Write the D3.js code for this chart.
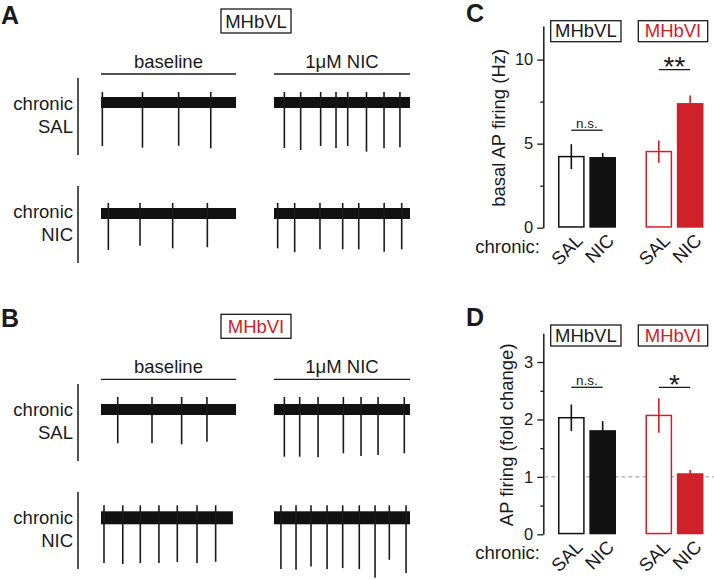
<!DOCTYPE html>
<html><head><meta charset="utf-8">
<script src="https://cdn.jsdelivr.net/npm/d3@7"></script>
<style>
body{margin:0;background:#fff}
svg{display:block}
text{font-family:"Liberation Sans",Arial,Helvetica,sans-serif;fill:#1a1a1a}
</style>
</head><body>
<svg id="c" width="714" height="580"></svg>
<script>
// ---------------- DATA ----------------
const groups = ["MHbVL", "MHbVI"];
const chronic = ["SAL", "NIC"];
// panel C: basal AP firing (Hz), order VL-SAL, VL-NIC, VI-SAL, VI-NIC
const firingMean = [4.23, 4.16, 4.53, 7.37];
const firingSem  = [0.74, 0.28, 0.66, 0.50];
const firingTicks = [0, 5, 10];
const firingMinor = [2.5, 7.5];
const firingSig = [5.8, 9.4];
const firingSigLabel = ["n.s.", "**"];
// panel D: AP firing fold change
const foldMean = [2.03, 1.80, 2.07, 1.05];
const foldSem  = [0.23, 0.17, 0.30, 0.07];
const foldTicks = [0, 1, 2, 3];
const foldMinor = [0.5, 1.5, 2.5];
const foldSig = [2.56, 2.56];
const foldSigLabel = ["n.s.", "*"];

// example traces: spike times (s) and spike amplitudes (mV below baseline)
const conditions = ["baseline", "1μM NIC"];
const A_SAL_base_t = [0.10, 3.05, 5.71, 8.07];
const A_SAL_base_a = [43.5, 45.2, 43.2, 45.8];
const A_SAL_nic_t  = [0.76, 1.96, 3.43, 4.56, 5.42, 6.80, 8.09, 9.26];
const A_SAL_nic_a  = [45.5, 47.5, 43.5, 45.5, 43.5, 49.2, 45.8, 44.8];
const A_NIC_base_t = [0.54, 2.87, 5.27, 7.82];
const A_NIC_base_a = [36.5, 32.2, 34.8, 33.8];
const A_NIC_nic_t  = [0.27, 1.52, 3.38, 5.05, 6.23, 8.10, 9.39];
const A_NIC_nic_a  = [34.8, 38.8, 35.8, 35.8, 35.8, 38.2, 35.8];
const B_SAL_base_t = [1.23, 3.75, 5.93, 7.79];
const B_SAL_base_a = [33.8, 33.8, 34.8, 32.2];
const B_SAL_nic_t  = [0.76, 1.89, 3.24, 5.10, 6.40, 7.65, 9.58];
const B_SAL_nic_a  = [47.2, 47.2, 47.8, 43.8, 46.5, 45.5, 43.8];
const B_NIC_base_t = [0.22, 1.60, 2.89, 4.26, 5.61, 7.06, 8.43];
const B_NIC_base_a = [45.3, 46.3, 45.3, 45.3, 44.3, 45.3, 44.0];
const B_NIC_nic_t  = [0.51, 1.62, 2.72, 3.90, 5.05, 6.27, 7.43, 8.48, 9.71];
const B_NIC_nic_a  = [51.3, 52.0, 48.7, 51.3, 50.3, 51.3, 60.0, 42.0, 55.3];
const durations = { base: 9.93, nic: 10.0 };

// ---------------- DRAW ----------------
const RED = "#cf2129";
const svg = d3.select("#c");

function txt(x, y, s, size, opts = {}) {
  const t = svg.append("text").attr("x", x).attr("y", y).text(s)
    .attr("font-size", size).attr("text-anchor", opts.anchor || "start");
  if (opts.bold) t.attr("font-weight", "bold");
  if (opts.fill) t.style("fill", opts.fill);
  return t;
}
function box(x, y, w, h, label, color, base) {
  svg.append("rect").attr("x", x).attr("y", y).attr("width", w).attr("height", h)
    .attr("fill", "#fff").attr("stroke", "#1a1a1a").attr("stroke-width", 1.3);
  txt(x + w / 2, base, label, 18.5, { anchor: "middle", fill: color });
}

// panel letters
txt(1, 24, "A", 25, { bold: true });
txt(1, 327, "B", 25, { bold: true });
txt(466, 22, "C", 25, { bold: true });
txt(466, 326, "D", 25, { bold: true });

// ----- trace panels -----
const tScale = d3.scaleLinear().domain([0, 10]).range([0, 136]);
const vScale = d3.scaleLinear().domain([-50, 50]).range([50, -50]);

function drawTrace(x0, yc, dur, noise, over, times, amps) {
  const g = svg.append("g").attr("transform", `translate(${x0},${yc})`);
  g.append("rect").attr("x", 0).attr("y", vScale(noise / 2))
    .attr("width", tScale(dur)).attr("height", vScale(-noise / 2) - vScale(noise / 2))
    .attr("fill", "#111");
  g.selectAll("line.sp").data(times).join("line")
    .attr("x1", d => tScale(d)).attr("x2", d => tScale(d))
    .attr("y1", vScale(noise / 2 + over)).attr("y2", (d, i) => vScale(-amps[i]))
    .attr("stroke", "#1a1a1a").attr("stroke-width", 1.6);
}

function tracePanel(top, label, labelColor, rows) {
  box(221, top, 70, 24, label, labelColor, top + 18.5);
  const segs = [[101, 236], [274, 410]];
  segs.forEach((s, i) => {
    txt((s[0] + s[1]) / 2, top + 59, conditions[i], 18.5, { anchor: "middle" });
    svg.append("line").attr("x1", s[0]).attr("x2", s[1]).attr("y1", top + 65).attr("y2", top + 65)
      .attr("stroke", "#1a1a1a").attr("stroke-width", 1.3);
  });
  rows.forEach(r => {
    svg.append("line").attr("x1", 78).attr("x2", 78).attr("y1", top + r.y0).attr("y2", top + r.y0 + 77)
      .attr("stroke", "#1a1a1a").attr("stroke-width", 1.5);
    txt(73, top + r.y0 + 32, "chronic", 18.5, { anchor: "end" });
    txt(73, top + r.y0 + 55, r.name, 18.5, { anchor: "end" });
    drawTrace(101, top + r.yc, r.baseDur, r.noise, r.over, r.bt, r.ba);
    drawTrace(274, top + r.yc, durations.nic, r.noise, r.over, r.nt, r.na);
  });
}

tracePanel(9, "MHbVL", "#1a1a1a", [
  { name: "SAL", y0: 69, yc: 93.5, noise: 11, over: 5, baseDur: durations.base, bt: A_SAL_base_t, ba: A_SAL_base_a, nt: A_SAL_nic_t, na: A_SAL_nic_a },
  { name: "NIC", y0: 177, yc: 204.5, noise: 11, over: 5, baseDur: durations.base, bt: A_NIC_base_t, ba: A_NIC_base_a, nt: A_NIC_nic_t, na: A_NIC_nic_a }
]);
tracePanel(314.3, "MHbVI", RED, [
  { name: "SAL", y0: 69.7, yc: 95.2, noise: 11, over: 7, baseDur: durations.base, bt: B_SAL_base_t, ba: B_SAL_base_a, nt: B_SAL_nic_t, na: B_SAL_nic_a },
  { name: "NIC", y0: 177.7, yc: 203.5, noise: 13, over: 6, baseDur: 9.7, bt: B_NIC_base_t, ba: B_NIC_base_a, nt: B_NIC_nic_t, na: B_NIC_nic_a }
]);

// ----- bar panels -----
const xOuter = d3.scaleBand().domain(groups).range([558, 703.5]).paddingInner(0.337);
const xInner = d3.scaleBand().domain(chronic).range([0, xOuter.bandwidth()]).paddingInner(0.15);
const bars = [];
groups.forEach(g => chronic.forEach(c => bars.push({ g, c })));
const barX = d => xOuter(d.g) + xInner(d.c);
const barC = d => barX(d) + xInner.bandwidth() / 2;

function barPanel(opts) {
  const y = d3.scaleLinear().domain(opts.domain).range(opts.range);
  const axisX = 543.3;
  const ax = svg.append("g").attr("transform", `translate(${axisX},0)`)
    .call(d3.axisLeft(y).tickValues(opts.ticks).tickSize(6).tickSizeOuter(0).tickPadding(4).tickFormat(d3.format("d")));
  ax.select(".domain").attr("stroke", "#1a1a1a").attr("stroke-width", 1.5);
  ax.selectAll(".tick line").attr("stroke", "#1a1a1a").attr("stroke-width", 1.3);
  ax.selectAll(".tick text").attr("font-size", 16.5).attr("font-family", "Liberation Sans, Arial").style("fill", "#1a1a1a");
  const mn = svg.append("g").attr("transform", `translate(${axisX},0)`)
    .call(d3.axisLeft(y).tickValues(opts.minor).tickSize(3).tickSizeOuter(0).tickFormat(""));
  mn.select(".domain").remove();
  mn.selectAll(".tick line").attr("stroke", "#1a1a1a").attr("stroke-width", 1.3);

  const [r0, r1] = opts.range;
  svg.append("text").attr("transform", `translate(${opts.labelX},${(r0 + r1) / 2 + 1}) rotate(-90)`)
    .attr("text-anchor", "middle").attr("font-size", 18.5).text(opts.label);

  if (opts.refLine != null) {
    svg.append("line").attr("x1", axisX + 1).attr("x2", 714).attr("y1", y(opts.refLine)).attr("y2", y(opts.refLine))
      .attr("stroke", "#999").attr("stroke-width", 1).attr("stroke-dasharray", "4,3");
  }

  box(550.7, opts.boxY, 70.3, 21, groups[0], "#1a1a1a", opts.boxY + 16.5);
  box(638.3, opts.boxY, 69.4, 21, groups[1], RED, opts.boxY + 16.5);

  bars.forEach((d, i) => {
    const col = d.g === "MHbVL" ? "#111" : RED;
    const filled = d.c === "NIC";
    const m = opts.mean[i], s = opts.sem[i];
    svg.append("rect").attr("x", barX(d) + 0.75).attr("y", y(m))
      .attr("width", xInner.bandwidth() - 1.5).attr("height", y(0) - y(m) - 0.75)
      .attr("fill", filled ? col : "#fff").attr("stroke", col).attr("stroke-width", 1.5);
    svg.append("line").attr("x1", barC(d)).attr("x2", barC(d)).attr("y1", y(m + s)).attr("y2", filled ? y(m) : y(m - s))
      .attr("stroke", col).attr("stroke-width", 1.6);
    svg.append("text").attr("transform", `translate(${barC(d) + 12.5},${y(0) + 14}) rotate(-45)`)
      .attr("text-anchor", "end").attr("font-size", 18.5).text(d.c);
  });
  txt(540, opts.chronicY, "chronic:", 18.5, { anchor: "end" });

  groups.forEach((g, gi) => {
    const a = bars[gi * 2], b = bars[gi * 2 + 1];
    const yy = y(opts.sig[gi]);
    svg.append("line").attr("x1", barC(a)).attr("x2", barC(b)).attr("y1", yy).attr("y2", yy)
      .attr("stroke", "#1a1a1a").attr("stroke-width", 1.3);
    const lab = opts.sigLabel[gi];
    const mid = (barC(a) + barC(b)) / 2;
    if (lab === "n.s.") txt(mid, yy - 2, lab, 13.5, { anchor: "middle" });
    else txt(mid, yy + 6.5, lab, 28, { anchor: "middle" });
  });
}

barPanel({
  domain: [0, 12], range: [227.7, 26], ticks: firingTicks, minor: firingMinor,
  mean: firingMean, sem: firingSem, sig: firingSig, sigLabel: firingSigLabel,
  label: "basal AP firing (Hz)", labelX: 505, boxY: 20.7, chronicY: 253.3, refLine: null
});
barPanel({
  domain: [0, 3.5], range: [534.3, 333.3], ticks: foldTicks, minor: foldMinor,
  mean: foldMean, sem: foldSem, sig: foldSig, sigLabel: foldSigLabel,
  label: "AP firing (fold change)", labelX: 513, boxY: 325, chronicY: 559.3, refLine: 1
});
</script>
</body></html>
